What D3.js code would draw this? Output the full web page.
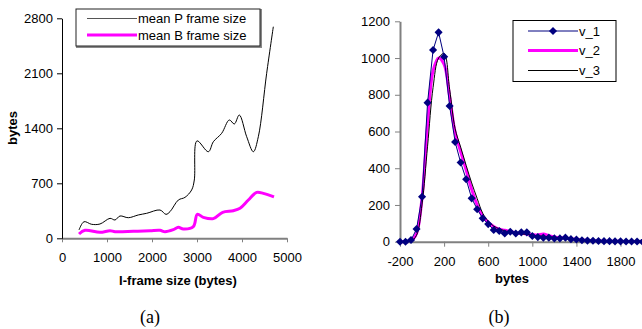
<!DOCTYPE html>
<html>
<head>
<meta charset="utf-8">
<script src="https://cdn.jsdelivr.net/npm/d3@7"></script>
<style>
  body { margin: 0; background: #fff; }
  svg { display: block; font-family: "Liberation Sans", Arial, sans-serif; }
</style>
</head>
<body>
<div id="chart"></div>
<script>
////////////////////////////////////////////////////
// (a) mean P / B frame size against I-frame size
////////////////////////////////////////////////////
var iSizeP = [378, 489, 660, 844, 1067, 1178, 1289, 1474, 1696, 1881, 2178, 2311, 2400, 2585, 2733, 2881, 2940, 3000, 3252, 3363, 3548, 3718, 3829, 3940, 4104, 4252, 4363, 4548, 4696];
var meanP  = [106, 211, 178, 182, 254, 233, 284, 262, 297, 318, 360, 305, 339, 487, 521, 615, 742, 1240, 1102, 1229, 1336, 1506, 1455, 1569, 1293, 1102, 1293, 2100, 2693];
var iSizeB = [378, 511, 844, 1067, 1178, 1585, 1956, 2178, 2289, 2474, 2585, 2696, 2918, 3007, 3140, 3363, 3570, 3807, 3956, 4141, 4326, 4474, 4711];
var meanB  = [55, 102, 76, 97, 84, 89, 97, 102, 84, 110, 140, 118, 148, 305, 267, 250, 331, 351, 382, 487, 585, 572, 526];
var aXTicks = [0, 1000, 2000, 3000, 4000, 5000];
var aYTicks = [0, 700, 1400, 2100, 2800];

////////////////////////////////////////////////////
// (b) histograms v_1, v_2, v_3
////////////////////////////////////////////////////
var bins = [-200, -150, -100, -50, 0, 50, 100, 150, 200, 250, 300, 350, 400, 450, 500, 550, 600, 650, 700, 750,
            800, 850, 900, 950, 1000, 1050, 1100, 1150, 1200, 1250, 1300, 1350, 1400, 1450, 1500, 1550, 1600, 1650,
            1700, 1750, 1800, 1850, 1900, 1950, 2000];
var v1 = [0, 0, 9, 69, 245, 757, 1044, 1140, 1007, 739, 543, 431, 340, 236, 177, 127, 96, 64, 58, 45,
          54, 45, 51, 51, 31, 25, 22, 22, 18, 18, 22, 14, 12, 8, 6, 5, 4, 3, 3, 2, 2, 1, 1, 1, 0];
var v2 = [0, 0, 4, 45, 240, 640, 930, 1000, 965, 790, 595, 490, 390, 285, 200, 140, 105, 82, 68, 62,
          55, 48, 45, 42, 38, 36, 42, 32, 26, 22, 20, 16, 12, 9, 7, 5, 4, 3, 3, 2, 2, 1, 1, 1, 0];
var v3 = [0, 0, 3, 35, 205, 520, 840, 1000, 1025, 830, 615, 515, 415, 320, 235, 155, 112, 85, 70, 60,
          52, 46, 42, 40, 36, 32, 30, 27, 24, 20, 18, 15, 12, 9, 7, 5, 4, 3, 3, 2, 2, 1, 1, 1, 0];
var bXTicks = [-200, 200, 600, 1000, 1400, 1800];
var bYTicks = [0, 200, 400, 600, 800, 1000, 1200];

var svg = d3.select("#chart").append("svg")
	.attr("width", 642)
	.attr("height", 329);

// plain labels: no thousands separator, ascii hyphen for negatives
function plain(d) { return String(d); }

function styleAxis(g, col, w) {
	g.select(".domain").attr("stroke", col).attr("stroke-width", w);
	g.selectAll(".tick line").attr("stroke", col).attr("stroke-width", 1);
	g.selectAll(".tick text").attr("fill", "#000").style("font-size", "13px")
		.style("font-family", "'Liberation Sans', Arial, sans-serif");
}

////////////////////////////////////////////////////
// chart (a)
////////////////////////////////////////////////////
var xa = d3.scaleLinear().domain([0, 5000]).range([62, 287]);
var ya = d3.scaleLinear().domain([0, 2800]).range([238.3, 18.3]);

var lineA = d3.line().curve(d3.curveCatmullRom)
	.x(function (d) { return xa(d[0]); })
	.y(function (d) { return ya(d[1]); });

svg.append("path")
	.datum(iSizeB.map(function (x, i) { return [x, meanB[i]]; }))
	.attr("fill", "none").attr("stroke", "#ff00ff").attr("stroke-width", 3)
	.attr("d", lineA);
svg.append("path")
	.datum(iSizeP.map(function (x, i) { return [x, meanP[i]]; }))
	.attr("fill", "none").attr("stroke", "#000").attr("stroke-width", 1)
	.attr("d", lineA);

svg.append("g")
	.attr("transform", "translate(0,238.3)")
	.call(d3.axisBottom(xa).tickValues(aXTicks).tickFormat(plain).tickSize(4).tickPadding(10).tickSizeOuter(0))
	.call(styleAxis, "#808080", 2);
svg.append("g")
	.attr("transform", "translate(62,0)")
	.call(d3.axisLeft(ya).tickValues(aYTicks).tickFormat(plain).tickSize(5).tickPadding(4).tickSizeOuter(0))
	.call(styleAxis, "#000", 1);

svg.append("text")
	.attr("transform", "translate(16.5,128) rotate(-90)")
	.attr("text-anchor", "middle")
	.style("font-size", "13px").style("font-weight", "bold")
	.text("bytes");
svg.append("text")
	.attr("x", 178).attr("y", 285)
	.attr("text-anchor", "middle")
	.style("font-size", "13px").style("font-weight", "bold")
	.text("I-frame size (bytes)");
svg.append("text")
	.attr("x", 150).attr("y", 323)
	.attr("text-anchor", "middle")
	.style("font-family", "'Liberation Serif', 'Times New Roman', serif").style("font-size", "18px")
	.text("(a)");

// legend (a)
var legA = svg.append("g");
legA.append("rect").attr("x", 77).attr("y", 10).attr("width", 184).attr("height", 37)
	.attr("fill", "none").attr("stroke", "#888").attr("stroke-width", 2);
legA.append("rect").attr("x", 76).attr("y", 9).attr("width", 184).attr("height", 37)
	.attr("fill", "#fff").attr("stroke", "#222").attr("stroke-width", 1);
var legAItems = [["mean P frame size", "#555", 1, 18.5], ["mean B frame size", "#ff00ff", 3, 35]];
legA.selectAll(".li").data(legAItems).enter().append("line")
	.attr("x1", 87).attr("x2", 137)
	.attr("y1", function (d) { return d[3]; }).attr("y2", function (d) { return d[3]; })
	.attr("stroke", function (d) { return d[1]; })
	.attr("stroke-width", function (d) { return d[2]; });
legA.selectAll(".lt").data(legAItems).enter().append("text")
	.attr("x", 138).attr("y", function (d) { return d[3] + 4.5; })
	.style("font-size", "13px")
	.text(function (d) { return d[0]; });

////////////////////////////////////////////////////
// chart (b)
////////////////////////////////////////////////////
var xb = d3.scaleLinear().domain([-200, 2000]).range([400, 642.6]);
var yb = d3.scaleLinear().domain([0, 1200]).range([241.7, 21.3]);

var lineSmooth = d3.line().curve(d3.curveCatmullRom)
	.x(function (d, i) { return xb(bins[i]); })
	.y(function (d) { return yb(d); });
var lineStraight = d3.line()
	.x(function (d, i) { return xb(bins[i]); })
	.y(function (d) { return yb(d); });

svg.append("path").datum(v2)
	.attr("fill", "none").attr("stroke", "#ff00ff").attr("stroke-width", 3)
	.attr("d", lineSmooth);
svg.append("path").datum(v3)
	.attr("fill", "none").attr("stroke", "#000").attr("stroke-width", 1)
	.attr("d", lineSmooth);
svg.append("path").datum(v1)
	.attr("fill", "none").attr("stroke", "#000080").attr("stroke-width", 1)
	.attr("d", lineStraight);

var diamond = d3.symbol().type(d3.symbolDiamond2).size(42);

svg.append("g")
	.attr("transform", "translate(0,241.7)")
	.call(d3.axisBottom(xb).tickValues(bXTicks).tickFormat(plain).tickSize(5).tickPadding(10).tickSizeOuter(0))
	.call(styleAxis, "#808080", 2);
svg.append("g")
	.attr("transform", "translate(400,0)")
	.call(d3.axisLeft(yb).tickValues(bYTicks).tickFormat(plain).tickSize(5).tickPadding(5).tickSizeOuter(0))
	.call(styleAxis, "#808080", 2);

svg.append("g").selectAll("path").data(v1).enter().append("path")
	.attr("d", diamond)
	.attr("transform", function (d, i) { return "translate(" + xb(bins[i]) + "," + yb(d) + ")"; })
	.attr("fill", "#000080");

svg.append("text")
	.attr("x", 512).attr("y", 283)
	.attr("text-anchor", "middle")
	.style("font-size", "13px").style("font-weight", "bold")
	.text("bytes");
svg.append("text")
	.attr("x", 499).attr("y", 323)
	.attr("text-anchor", "middle")
	.style("font-family", "'Liberation Serif', 'Times New Roman', serif").style("font-size", "18px")
	.text("(b)");

// legend (b)
var legB = svg.append("g");
legB.append("rect").attr("x", 513).attr("y", 20.5).attr("width", 103).attr("height", 61)
	.attr("fill", "#fff").attr("stroke", "#000").attr("stroke-width", 1);
var legBItems = [["v_1", "#000080", 1, 31], ["v_2", "#ff00ff", 3, 50.5], ["v_3", "#000", 1, 70.5]];
legB.selectAll(".li").data(legBItems).enter().append("line")
	.attr("x1", 528).attr("x2", 578)
	.attr("y1", function (d) { return d[3]; }).attr("y2", function (d) { return d[3]; })
	.attr("stroke", function (d) { return d[1]; })
	.attr("stroke-width", function (d) { return d[2]; });
legB.append("path").attr("d", diamond)
	.attr("transform", "translate(553,31)").attr("fill", "#000080");
legB.selectAll(".lt").data(legBItems).enter().append("text")
	.attr("x", 579).attr("y", function (d) { return d[3] + 4.5; })
	.style("font-size", "13px")
	.text(function (d) { return d[0]; });
</script>
</body>
</html>
